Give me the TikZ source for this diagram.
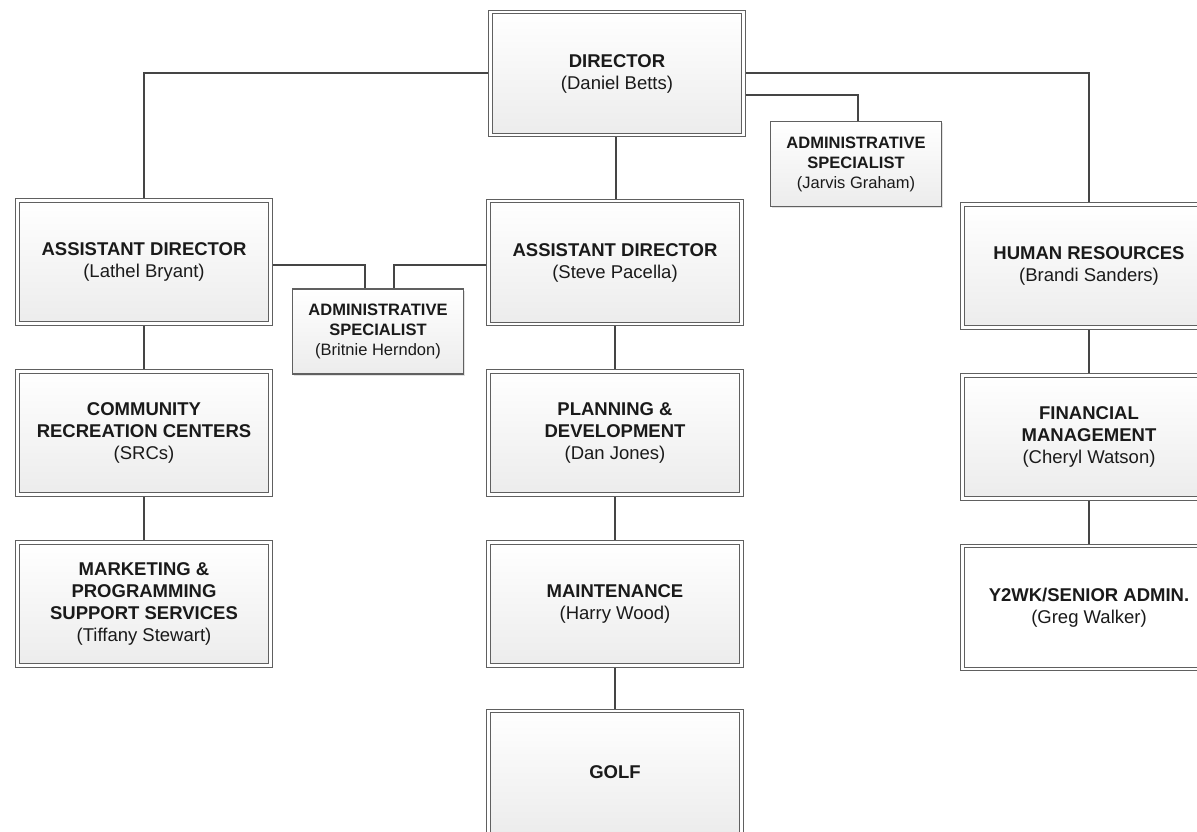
\documentclass[tikz,border=0pt]{standalone}
\usepackage{fontspec}
\setmainfont{Liberation Sans}
\usetikzlibrary{shadows,backgrounds}
\definecolor{boxline}{HTML}{606060}
\definecolor{conn}{HTML}{454545}
\definecolor{txt}{HTML}{1A1A1A}
\definecolor{shadeb}{HTML}{ECECEC}
\definecolor{shadowc}{HTML}{D0D0D0}
\begin{document}
\begin{tikzpicture}[x=1pt,y=-1pt,
  bigbox/.style={draw=boxline, line width=1.1pt, double=white, double distance=2.6pt,
    top color=white, bottom color=shadeb, minimum width=253pt, minimum height=123pt,
    inner sep=0pt, align=center, text=txt, font=\fontsize{18.5}{22}\selectfont,
    drop shadow={shadow xshift=1.5pt, shadow yshift=-1.5pt, fill=shadowc, opacity=0.6}},
  whitebox/.style={bigbox, top color=white, bottom color=white},
  smallbox/.style={draw=boxline, line width=1.2pt,
    top color=white, bottom color=shadeb, minimum width=171pt, minimum height=85pt,
    inner sep=0pt, align=center, text=txt, font=\fontsize{16.5}{20}\selectfont,
    drop shadow={shadow xshift=1.5pt, shadow yshift=-1.5pt, fill=shadowc, opacity=0.6}},
  link/.style={draw=conn, line width=2pt}]
\useasboundingbox (0,0) rectangle (1197,832);
\clip (0,0) rectangle (1197,832);

\node[bigbox] (dir) at (617,73.5) {\textbf{DIRECTOR}\\(Daniel Betts)};
\node[smallbox] (jarvis) at (856,164) {\textbf{ADMINISTRATIVE}\\\textbf{SPECIALIST}\\(Jarvis Graham)};
\node[bigbox] (lathel) at (144,262) {\textbf{ASSISTANT DIRECTOR}\\(Lathel Bryant)};
\node[bigbox] (steve) at (615,262.5) {\textbf{ASSISTANT DIRECTOR}\\(Steve Pacella)};
\node[smallbox] (britnie) at (378,331.5) {\textbf{ADMINISTRATIVE}\\\textbf{SPECIALIST}\\(Britnie Herndon)};
\node[bigbox] (hr) at (1089,266) {\textbf{HUMAN RESOURCES}\\(Brandi Sanders)};
\node[bigbox] (src) at (144,433) {\textbf{COMMUNITY}\\\textbf{RECREATION CENTERS}\\(SRCs)};
\node[bigbox] (plan) at (615,433) {\textbf{PLANNING \&}\\\textbf{DEVELOPMENT}\\(Dan Jones)};
\node[bigbox] (fin) at (1089,437) {\textbf{FINANCIAL}\\\textbf{MANAGEMENT}\\(Cheryl Watson)};
\node[bigbox] (mkt) at (144,604) {\textbf{MARKETING \&}\\\textbf{PROGRAMMING}\\\textbf{SUPPORT SERVICES}\\(Tiffany Stewart)};
\node[bigbox] (maint) at (615,604) {\textbf{MAINTENANCE}\\(Harry Wood)};
\node[whitebox] (y2wk) at (1089,607.5) {\textbf{Y2WK/SENIOR ADMIN.}\\(Greg Walker)};
\node[bigbox] (golf) at (615,772.5) {\textbf{GOLF}};

\begin{pgfonlayer}{background}
\fill[white] (0,0) rectangle (1197,832);
\draw[link] (dir) -| (lathel);
\draw[link] (dir) -| (hr);
\draw[link] ([yshift=-21.5pt]dir.east) -| ([xshift=2pt]jarvis.north);
\draw[link] ([xshift=1pt]steve.north |- dir.south) -- ([xshift=1pt]steve.north);
\draw[link] ([yshift=-3pt]lathel.east) -| ([xshift=-13pt]britnie.north);
\draw[link] ([yshift=-2.5pt]steve.west) -| ([xshift=16pt]britnie.north);
\draw[link] (lathel) -- (src);
\draw[link] (src) -- (mkt);
\draw[link] (steve) -- (plan);
\draw[link] (plan) -- (maint);
\draw[link] (maint) -- (golf);
\draw[link] (hr) -- (fin);
\draw[link] (fin) -- (y2wk);
\end{pgfonlayer}
\end{tikzpicture}
\end{document}
